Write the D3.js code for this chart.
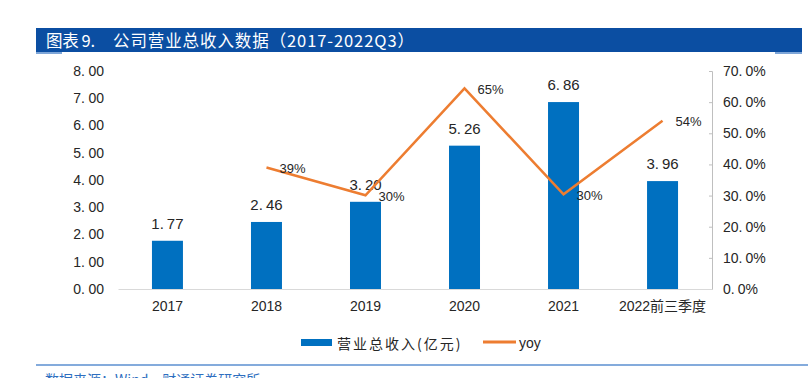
<!DOCTYPE html>
<html>
<head>
<meta charset="utf-8">
<script src="https://cdn.jsdelivr.net/npm/d3@7/dist/d3.min.js"></script>
<style>
  html, body { margin: 0; padding: 0; background: #ffffff; }
  svg { display: block; }
  text { font-family: "Liberation Sans", "Noto Sans CJK SC", sans-serif; }
</style>
</head>
<body>
<svg id="chart" width="808" height="378"></svg>
<script>
// ---- data ----
const categories = ["2017", "2018", "2019", "2020", "2021", "2022前三季度"];
const revenue = [1.77, 2.46, 3.20, 5.26, 6.86, 3.96];
const yoy = [null, 0.39, 0.301, 0.644, 0.304, 0.54];
const yoyLabels = ["", "39%", "30%", "65%", "30%", "54%"];
const leftTicks = [0, 1, 2, 3, 4, 5, 6, 7, 8];
const rightTicks = [0, 0.1, 0.2, 0.3, 0.4, 0.5, 0.6, 0.7];
const titlePrefix = "图表 9.";
const titleMain = "公司营业总收入数据（2017-2022Q3）";
const legendBar = "营业总收入(亿元)";
const legendLine = "yoy";
const sourceText = "数据来源：Wind，财通证券研究所";

const svg = d3.select("#chart");
const barColor = "#0070c0";
const lineColor = "#ed7d31";
const textColor = "#262626";

// helper: write a decimal number with a wide gap after the point
function wideDecimal(sel, str, gap) {
  const parts = str.split(".");
  sel.text(null);
  sel.append("tspan").text(parts[0] + ".");
  if (parts.length > 1) sel.append("tspan").attr("dx", gap).text(parts[1]);
}

// ---- title ----
svg.append("rect").attr("x", 36).attr("y", 28).attr("width", 766).attr("height", 24).attr("fill", "#0b4ea2");
svg.append("rect").attr("x", 36).attr("y", 52).attr("width", 26).attr("height", 2).attr("fill", "#7ea6d8");
svg.append("rect").attr("x", 775).attr("y", 52).attr("width", 27).attr("height", 2).attr("fill", "#7ea6d8");
const title = svg.append("text").attr("y", 40).attr("dominant-baseline", "central")
  .attr("fill", "#ffffff").attr("font-size", 16.5)
  .style("font-family", "'Noto Sans CJK SC', sans-serif");
title.append("tspan").attr("x", 46).attr("textLength", 49).attr("lengthAdjust", "spacing").text(titlePrefix);
title.append("tspan").attr("x", 113).attr("textLength", 301).attr("lengthAdjust", "spacing").text(titleMain);

// ---- scales ----
const x = d3.scaleBand().domain(categories).range([118, 712]).paddingInner(0.687).paddingOuter(0.343);
const yL = d3.scaleLinear().domain([0, 8]).range([289, 71]);
const yR = d3.scaleLinear().domain([0, 0.7]).range([289, 71]);

// ---- left axis ----
const gL = svg.append("g").attr("transform", "translate(118,0)")
  .call(d3.axisLeft(yL).tickValues(leftTicks).tickFormat(d3.format(".2f")).tickSize(0).tickPadding(14));
gL.select(".domain").remove();
gL.selectAll("text").attr("font-size", 14).attr("fill", textColor).style("font-family", null)
  .each(function(d) { wideDecimal(d3.select(this), d3.format(".2f")(d), 3.5); });

// ---- right axis ----
const gR = svg.append("g").attr("transform", "translate(712,0)")
  .call(d3.axisRight(yR).tickValues(rightTicks).tickFormat(d3.format(".1%")).tickSize(-3).tickPadding(11));
gR.select(".domain").attr("stroke", "#bfbfbf");
gR.selectAll("line").attr("stroke", "#bfbfbf");
gR.selectAll("text").attr("font-size", 14).attr("fill", textColor).style("font-family", null)
  .each(function(d) { wideDecimal(d3.select(this), d3.format(".1%")(d), 3); });

// ---- x axis ----
const gX = svg.append("g").attr("transform", "translate(0,289)")
  .call(d3.axisBottom(x).tickSize(0).tickPadding(12).tickSizeOuter(0));
gX.select(".domain").attr("stroke", "#d9d9d9");
gX.selectAll("text").attr("font-size", 14).attr("fill", textColor).style("font-family", null);

// ---- bars ----
svg.append("g").selectAll("rect").data(categories).join("rect")
  .attr("x", d => x(d))
  .attr("y", (d, i) => yL(revenue[i]))
  .attr("width", x.bandwidth())
  .attr("height", (d, i) => yL(0) - yL(revenue[i]))
  .attr("fill", barColor);

svg.append("g").selectAll("text").data(categories).join("text")
  .attr("x", d => x(d) + x.bandwidth() / 2)
  .attr("y", (d, i) => yL(revenue[i]) - 12)
  .attr("text-anchor", "middle").attr("font-size", 15).attr("fill", textColor)
  .each(function(d, i) { wideDecimal(d3.select(this), d3.format(".2f")(revenue[i]), 3); });

// ---- line ----
const pts = categories.map((c, i) => ({ c, v: yoy[i], l: yoyLabels[i] }));
const line = d3.line().defined(d => d.v != null)
  .x(d => x(d.c) + x.bandwidth() / 2).y(d => yR(d.v));
svg.append("path").datum(pts).attr("d", line)
  .attr("fill", "none").attr("stroke", lineColor).attr("stroke-width", 2.5).attr("stroke-linejoin", "miter");

svg.append("g").selectAll("text").data(pts.filter(d => d.v != null)).join("text")
  .attr("x", d => x(d.c) + x.bandwidth() / 2 + 13)
  .attr("y", d => yR(d.v) + 1)
  .attr("dominant-baseline", "central").attr("font-size", 13).attr("fill", textColor)
  .text(d => d.l);

// ---- legend ----
svg.append("rect").attr("x", 301).attr("y", 339).attr("width", 31).attr("height", 7).attr("fill", barColor);
svg.append("text").attr("x", 337).attr("y", 343).attr("dominant-baseline", "central")
  .attr("font-size", 14).attr("fill", textColor).style("letter-spacing", "2px")
  .style("font-family", "'Noto Sans CJK SC', sans-serif").text(legendBar);
svg.append("line").attr("x1", 483).attr("x2", 516).attr("y1", 342).attr("y2", 342)
  .attr("stroke", lineColor).attr("stroke-width", 3);
svg.append("text").attr("x", 519).attr("y", 343).attr("dominant-baseline", "central")
  .attr("font-size", 14).attr("fill", textColor).text(legendLine);

// ---- footer ----
svg.append("line").attr("x1", 36).attr("x2", 808).attr("y1", 365).attr("y2", 365)
  .attr("stroke", "#5b8fd0").attr("stroke-width", 1.5);
svg.append("text").attr("x", 45).attr("y", 385).attr("font-size", 14).attr("fill", "#2f6fc0")
  .style("font-family", "'Noto Sans CJK SC', sans-serif").text(sourceText);
</script>
</body>
</html>
